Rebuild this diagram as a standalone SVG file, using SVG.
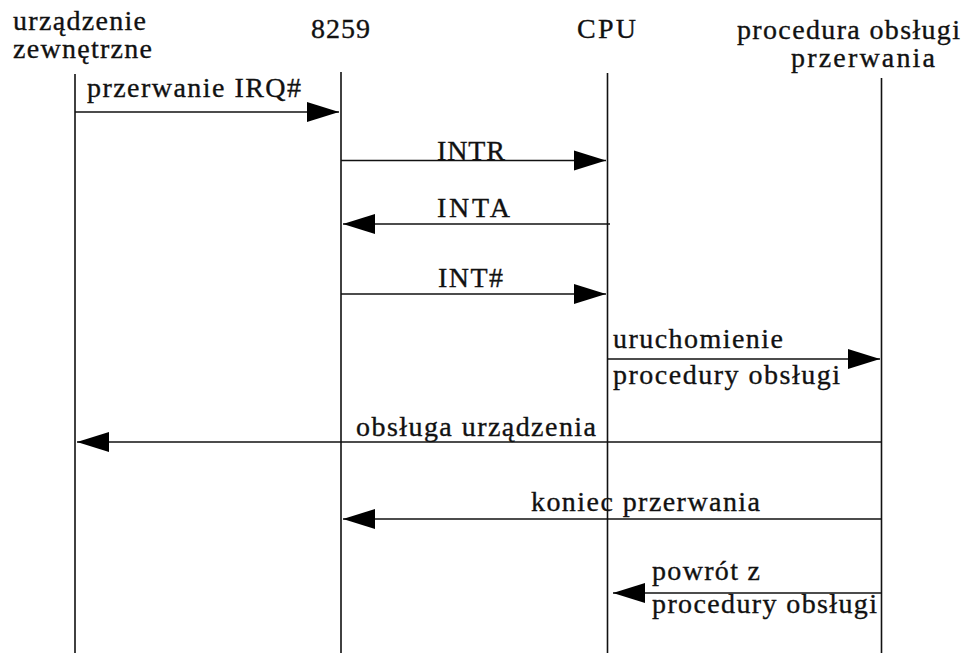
<svg xmlns="http://www.w3.org/2000/svg" width="965" height="653" viewBox="0 0 965 653">
<style>
  .life { stroke: #111; stroke-width: 1.6; fill: none; }
  .msg { stroke: #111; stroke-width: 1.6; fill: none; marker-end: url(#ah); }
  text { font-family: "Liberation Serif", "Times New Roman", serif; font-size: 28px; fill: #111; stroke: #111; stroke-width: 0.35; }
</style>
<defs>
  <marker id="ah" markerUnits="userSpaceOnUse" markerWidth="33" markerHeight="22" refX="32" refY="10" orient="auto" overflow="visible">
    <path d="M0,0 L32,10 L0,20 Z" fill="#000"/>
  </marker>
</defs>
<rect width="965" height="653" fill="#fff"/>

<g id="node-urzadzenie">
  <text x="13" y="30" textLength="133" lengthAdjust="spacing">urządzenie</text>
  <text x="13" y="58" textLength="139" lengthAdjust="spacing">zewnętrzne</text>
  <line class="life" x1="75" y1="74" x2="75" y2="653"/>
</g>
<g id="node-8259">
  <text x="311" y="38" textLength="59" lengthAdjust="spacing">8259</text>
  <line class="life" x1="341" y1="72" x2="341" y2="653"/>
</g>
<g id="node-cpu">
  <text x="577" y="38" textLength="59" lengthAdjust="spacing">CPU</text>
  <line class="life" x1="607.5" y1="73" x2="607.5" y2="653"/>
</g>
<g id="node-procedura">
  <text x="737" y="39" textLength="223" lengthAdjust="spacing">procedura obsługi</text>
  <text x="791" y="67" textLength="144" lengthAdjust="spacing">przerwania</text>
  <line class="life" x1="881.5" y1="78" x2="881.5" y2="653"/>
</g>

<g id="connectors">
  <line class="msg" x1="75" y1="112" x2="339" y2="112"/>
  <text x="87" y="97" textLength="214" lengthAdjust="spacing">przerwanie IRQ#</text>

  <line class="msg" x1="341" y1="160.5" x2="606" y2="160.5"/>
  <text x="437" y="160" textLength="68" lengthAdjust="spacing">INTR</text>

  <line class="msg" x1="610" y1="224" x2="343" y2="224"/>
  <text x="437" y="217" textLength="73" lengthAdjust="spacing">INTA</text>

  <line class="msg" x1="341" y1="294" x2="606" y2="294"/>
  <text x="438" y="287" textLength="65" lengthAdjust="spacing">INT#</text>

  <line class="msg" x1="607.5" y1="359" x2="880" y2="359"/>
  <text x="613" y="348" textLength="170" lengthAdjust="spacing">uruchomienie</text>
  <text x="613" y="384" textLength="227" lengthAdjust="spacing">procedury obsługi</text>

  <line class="msg" x1="881.5" y1="442" x2="77" y2="442"/>
  <text x="356" y="436" textLength="240" lengthAdjust="spacing">obsługa urządzenia</text>

  <line class="msg" x1="881.5" y1="519" x2="343" y2="519"/>
  <text x="531" y="511" textLength="229" lengthAdjust="spacing">koniec przerwania</text>

  <line class="msg" x1="881.5" y1="593" x2="613" y2="593"/>
  <text x="652" y="580" textLength="108" lengthAdjust="spacing">powrót z</text>
  <text x="652" y="613" textLength="225" lengthAdjust="spacing">procedury obsługi</text>
</g>
</svg>
